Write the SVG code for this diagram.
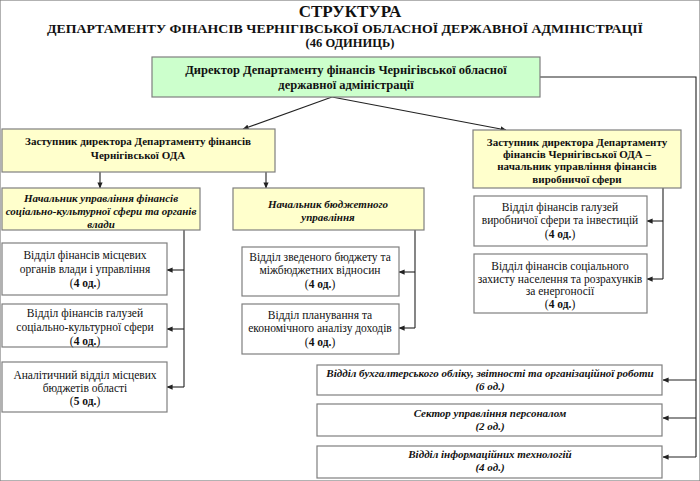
<svg xmlns="http://www.w3.org/2000/svg" width="700" height="481" viewBox="0 0 700 481">
<style>
text{font-family:'Liberation Serif','DejaVu Serif',serif;fill:#111;text-anchor:middle}
.t1{font-size:17px;font-weight:bold}
.t2{font-size:13.5px;font-weight:bold}
.t3{font-size:12.5px;font-weight:bold}
.dir{font-size:12.5px;font-weight:bold}
.dep{font-size:11px;font-weight:bold}
.bi{font-size:11px;font-weight:bold;font-style:italic}
.rg{font-size:11.5px}
.b{font-weight:bold}
rect{stroke:#7f7f7f;stroke-width:1.2}
.g{fill:#ccffcc}
.y{fill:#ffffcc}
.w{fill:#ffffff}
.c path{fill:none;stroke:#222;stroke-width:1.1}
</style>
<defs>
<marker id="ar" viewBox="0 0 8 8" refX="7.5" refY="4" markerWidth="6" markerHeight="6" orient="auto" markerUnits="userSpaceOnUse">
<path d="M0,0.5 L8,4 L0,7.5 Z" fill="#222"/>
</marker>
</defs>
<rect x="0" y="0" width="700" height="481" fill="#ffffff" stroke="none"/>
<g id="title">
<text class="t1" x="350" y="17">СТРУКТУРА</text>
<text class="t2" x="345" y="33" textLength="596" lengthAdjust="spacingAndGlyphs">ДЕПАРТАМЕНТУ ФІНАНСІВ ЧЕРНІГІВСЬКОЇ ОБЛАСНОЇ ДЕРЖАВНОЇ АДМІНІСТРАЦІЇ</text>
<text class="t3" x="350" y="47">(46 ОДИНИЦЬ)</text>
</g>
<g class="c" id="connectors">
<path d="M332,97 L243,129" marker-end="url(#ar)"/>
<path d="M332,97 L506,130" marker-end="url(#ar)"/>
<path d="M540,77 H696 V457"/>
<path d="M696,380 H663" marker-end="url(#ar)"/>
<path d="M696,418 H663" marker-end="url(#ar)"/>
<path d="M696,457 H663" marker-end="url(#ar)"/>
<path d="M100,172 V188" marker-end="url(#ar)"/>
<path d="M266,172 V188" marker-end="url(#ar)"/>
<path d="M184,230 V387"/>
<path d="M184,270 H167" marker-end="url(#ar)"/>
<path d="M184,329 H167" marker-end="url(#ar)"/>
<path d="M184,387 H167" marker-end="url(#ar)"/>
<path d="M415,230 V328"/>
<path d="M415,272 H399" marker-end="url(#ar)"/>
<path d="M415,328 H399" marker-end="url(#ar)"/>
<path d="M663,188 V279"/>
<path d="M663,221 H647" marker-end="url(#ar)"/>
<path d="M663,279 H647" marker-end="url(#ar)"/>
</g>
<g id="director">
<rect class="g" x="152" y="57" width="388" height="40"/>
<text class="dir" x="346" y="74">Директор Департаменту фінансів Чернігівської обласної</text>
<text class="dir" x="346" y="89">державної адміністрації</text>
</g>
<g id="deputy-left">
<rect class="y" x="2" y="129" width="273" height="43"/>
<text class="dep" x="138" y="145">Заступник директора Департаменту фінансів</text>
<text class="dep" x="138" y="159">Чернігівської ОДА</text>
</g>
<g id="head-social">
<rect class="y" x="2" y="188" width="198" height="42"/>
<text class="bi" x="101" y="202">Начальник управління фінансів</text>
<text class="bi" x="101" y="215">соціально-культурної сфери та органів</text>
<text class="bi" x="101" y="228">влади</text>
</g>
<g id="head-budget">
<rect class="y" x="233" y="188" width="191" height="42"/>
<text class="bi" x="328" y="208">Начальник бюджетного</text>
<text class="bi" x="328" y="221">управління</text>
</g>
<g id="deputy-right">
<rect class="y" x="473" y="130" width="208" height="58"/>
<text class="dep" x="577" y="146">Заступник директора Департаменту</text>
<text class="dep" x="577" y="158">фінансів Чернігівської ОДА –</text>
<text class="dep" x="577" y="170">начальник управління фінансів</text>
<text class="dep" x="577" y="183">виробничої сфери</text>
</g>
<g id="dept-local">
<rect class="w" x="2" y="243" width="165" height="52"/>
<text class="rg" x="85" y="259">Відділ фінансів місцевих</text>
<text class="rg" x="85" y="273">органів влади і управління</text>
<text class="rg" x="85" y="287">(<tspan class="b">4 од.</tspan>)</text>
</g>
<g id="dept-social">
<rect class="w" x="2" y="304" width="165" height="43"/>
<text class="rg" x="85" y="317">Відділ фінансів галузей</text>
<text class="rg" x="85" y="331">соціально-культурної сфери</text>
<text class="rg" x="85" y="345">(<tspan class="b">4 од.</tspan>)</text>
</g>
<g id="dept-analytic">
<rect class="w" x="2" y="362" width="165" height="50"/>
<text class="rg" x="85" y="379">Аналітичний відділ місцевих</text>
<text class="rg" x="85" y="392">бюджетів області</text>
<text class="rg" x="85" y="405">(<tspan class="b">5 од.</tspan>)</text>
</g>
<g id="dept-consolidated">
<rect class="w" x="242" y="247" width="157" height="49"/>
<text class="rg" x="320" y="261">Відділ зведеного бюджету та</text>
<text class="rg" x="320" y="274">міжбюджетних відносин</text>
<text class="rg" x="320" y="288">(<tspan class="b">4 од.</tspan>)</text>
</g>
<g id="dept-planning">
<rect class="w" x="242" y="304" width="157" height="50"/>
<text class="rg" x="320" y="319">Відділ планування та</text>
<text class="rg" x="320" y="332">економічного аналізу доходів</text>
<text class="rg" x="320" y="346">(<tspan class="b">4 од.</tspan>)</text>
</g>
<g id="dept-production">
<rect class="w" x="474" y="196" width="173" height="50"/>
<text class="rg" x="560" y="211">Відділ фінансів галузей</text>
<text class="rg" x="560" y="224">виробничої сфери та інвестицій</text>
<text class="rg" x="560" y="238">(<tspan class="b">4 од.</tspan>)</text>
</g>
<g id="dept-protection">
<rect class="w" x="474" y="254" width="173" height="59"/>
<text class="rg" x="560" y="270">Відділ фінансів соціального</text>
<text class="rg" x="560" y="283">захисту населення та розрахунків</text>
<text class="rg" x="560" y="295">за енергоносії</text>
<text class="rg" x="560" y="308">(<tspan class="b">4 од.</tspan>)</text>
</g>
<g id="dept-accounting">
<rect class="w" x="317" y="365" width="345" height="30"/>
<text class="bi" x="490" y="377">Відділ бухгалтерського обліку, звітності та організаційної роботи</text>
<text class="bi" x="490" y="390">(6 од.)</text>
</g>
<g id="sector-personnel">
<rect class="w" x="317" y="404" width="345" height="32"/>
<text class="bi" x="490" y="417">Сектор управління персоналом</text>
<text class="bi" x="490" y="430">(2 од.)</text>
</g>
<g id="dept-it">
<rect class="w" x="317" y="446" width="345" height="32"/>
<text class="bi" x="490" y="458">Відділ інформаційних технологій</text>
<text class="bi" x="490" y="471">(4 од.)</text>
</g>
</svg>
